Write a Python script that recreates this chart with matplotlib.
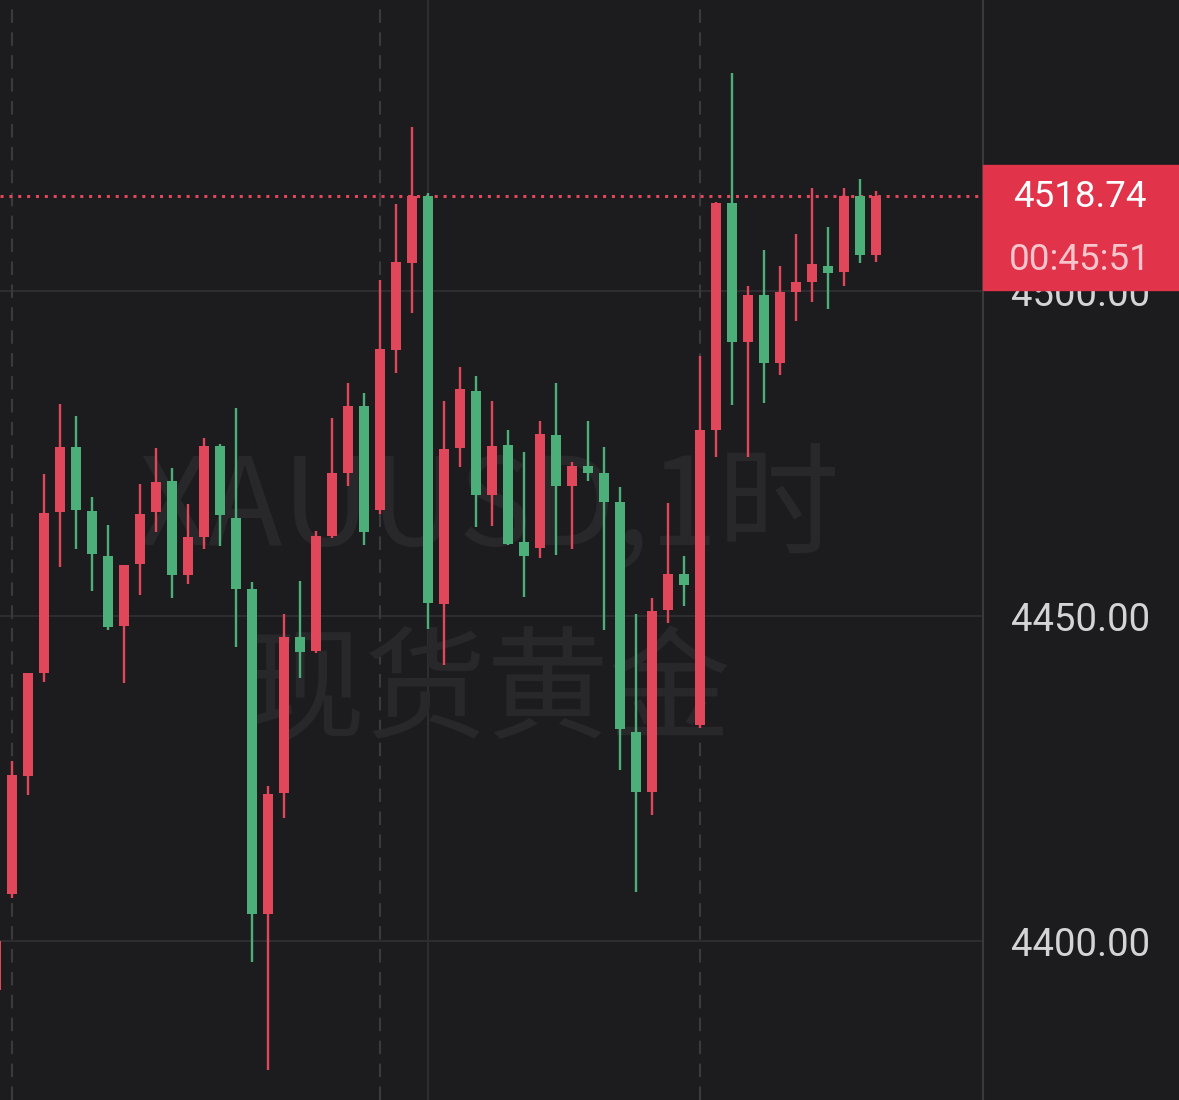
# 1-hour candlestick chart of spot gold (XAUUSD), dark theme
import matplotlib.pyplot as plt
from matplotlib import rcParams
from matplotlib.patches import Rectangle

rcParams['font.family'] = ['Roboto', 'DejaVu Sans']
rcParams['figure.dpi'] = 100

# candle data, oldest first
opens = [4392.46, 4407.23, 4425.38, 4441.23, 4466.0, 4476.0, 4466.15, 4459.23, 4448.46, 4458.0,
         4466.0, 4470.77, 4456.31, 4462.15, 4476.15, 4465.08, 4454.15, 4404.15, 4422.77, 4446.77,
         4444.62, 4462.31, 4472.0, 4482.31, 4466.31, 4490.92, 4504.31, 4514.62, 4451.85, 4475.85,
         4484.62, 4468.62, 4476.31, 4461.38, 4460.46, 4477.85, 4470.0, 4473.08, 4472.0, 4467.54,
         4432.15, 4422.92, 4450.92, 4456.46, 4433.23, 4478.62, 4513.54, 4492.15, 4499.38, 4488.92,
         4499.85, 4501.38, 4503.85, 4502.92, 4514.62, 4505.54]
highs = [4400.46, 4427.69, 4441.23, 4471.85, 4482.62, 4480.77, 4468.31, 4464.0, 4457.85, 4470.31,
         4475.85, 4472.77, 4467.23, 4477.38, 4476.4, 4482.0, 4455.23, 4423.85, 4450.31, 4455.38,
         4463.08, 4480.46, 4485.85, 4484.31, 4501.69, 4513.38, 4525.23, 4515.08, 4483.08, 4488.31,
         4486.92, 4483.08, 4478.62, 4475.23, 4480.0, 4485.85, 4473.69, 4480.0, 4476.0, 4469.85,
         4450.31, 4452.77, 4467.38, 4459.23, 4490.0, 4513.7, 4533.54, 4500.77, 4506.31, 4503.85,
         4508.77, 4515.85, 4509.85, 4515.85, 4517.23, 4515.38]
lows = [4391.69, 4406.62, 4422.46, 4439.85, 4457.54, 4460.31, 4453.85, 4447.9, 4439.69, 4453.23,
        4462.92, 4452.77, 4454.92, 4460.31, 4460.77, 4445.23, 4396.77, 4380.15, 4418.92, 4440.46,
        4444.3, 4462.0, 4470.0, 4460.92, 4465.69, 4487.38, 4496.62, 4448.0, 4442.46, 4472.92,
        4463.69, 4463.85, 4460.92, 4452.92, 4458.92, 4459.38, 4460.31, 4470.77, 4447.85, 4426.31,
        4407.54, 4419.38, 4448.92, 4451.54, 4432.77, 4474.46, 4482.46, 4474.46, 4482.77, 4487.08,
        4495.38, 4498.31, 4497.23, 4500.77, 4504.31, 4504.46]
closes = [4400.0, 4425.54, 4441.23, 4465.85, 4476.0, 4466.31, 4459.54, 4448.31, 4457.85, 4465.69,
          4470.62, 4456.31, 4462.15, 4476.15, 4465.54, 4454.15, 4404.15, 4422.62, 4446.77, 4444.46,
          4462.31, 4472.0, 4482.31, 4462.92, 4491.08, 4504.46, 4514.62, 4452.0, 4475.69, 4484.92,
          4468.62, 4476.15, 4461.08, 4459.23, 4478.0, 4470.0, 4473.08, 4472.0, 4467.54, 4432.62,
          4422.92, 4450.77, 4456.46, 4454.77, 4478.62, 4513.54, 4492.15, 4499.38, 4488.92, 4499.85,
          4501.38, 4504.15, 4502.77, 4514.62, 4505.54, 4514.62]

# axis ticks and labels
price_ticks = [4400, 4450, 4500]
session_marks = [1, 24, 44]      # dashed separators (candle index)
grid_mark = 27                   # solid vertical grid line
price_text = "4518.74"
countdown_text = "00:45:51"
watermark_1 = "XAUUSD,1时"
watermark_2 = "现货黄金"

BG = '#1c1c1e'
UP = '#e0475a'
DOWN = '#4caf7a'
GRID = '#2d2d2f'


def main():
    fig = plt.figure(figsize=(11.79, 11.0), facecolor=BG)
    ax = fig.add_axes([0, 0, 983 / 1179, 1])
    ax.set_facecolor(BG)

    # grid lines
    for p in price_ticks:
        ax.axhline(p, color=GRID, lw=1.5, zorder=0.4)
    ax.axvline(grid_mark, color=GRID, lw=1.5, zorder=0.4)
    for m in session_marks:
        ax.axvline(m, color='#3a3a3c', lw=1.5, linestyle=(0, (6.5, 4.5)), zorder=0.4)

    # watermark
    ax.text(0.4985, 0.536, watermark_1, transform=ax.transAxes, ha='center', va='center',
            fontsize=88, color='#28282a', fontweight='light',
            family=['Noto Sans CJK SC'], zorder=0.5)
    ax.text(0.4954, 0.368, watermark_2, transform=ax.transAxes, ha='center', va='center',
            fontsize=88, color='#28282a', fontweight='light',
            family=['Noto Sans CJK SC'], zorder=0.5)

    # candles
    for i in range(len(opens)):
        color = UP if closes[i] >= opens[i] else DOWN
        ax.vlines(i, lows[i], highs[i], color=color, lw=1.7, zorder=3)
        bottom = min(opens[i], closes[i])
        height = max(abs(closes[i] - opens[i]), 0.3)
        ax.bar(i, height, bottom=bottom, width=0.6, color=color, zorder=3)

    # last price dotted line
    ax.axhline(closes[-1], color=UP, lw=2.2, linestyle=(0, (1, 1.9)), zorder=2)

    ax.set_xlim(0.25, 61.69)
    ax.set_ylim(4375.54, 4544.77)

    # right price axis
    ax.yaxis.tick_right()
    ax.set_yticks(price_ticks)
    ax.set_yticklabels(["%.2f" % p for p in price_ticks])
    ax.tick_params(axis='y', length=0, pad=20, labelsize=27.5, labelcolor='#d4d4d8')
    ax.set_xticks([])
    for side in ['top', 'left', 'bottom']:
        ax.spines[side].set_visible(False)
    ax.spines['right'].set_color('#3a3a3c')
    ax.spines['right'].set_linewidth(1.5)

    # last price tag
    fig.add_artist(Rectangle((983 / 1179, 1 - 290 / 1100), 196 / 1179, 125 / 1100,
                             transform=fig.transFigure, color='#e1344a', zorder=5))
    fig.text(1080 / 1179, 1 - 197 / 1100, price_text, ha='center', va='center',
             fontsize=26.5, color='white', zorder=6)
    fig.text(1080 / 1179, 1 - 260 / 1100, countdown_text, ha='center', va='center',
             fontsize=26.5, color='#f7c6cd', zorder=6)

    plt.savefig('out.png', facecolor=BG)


main()
